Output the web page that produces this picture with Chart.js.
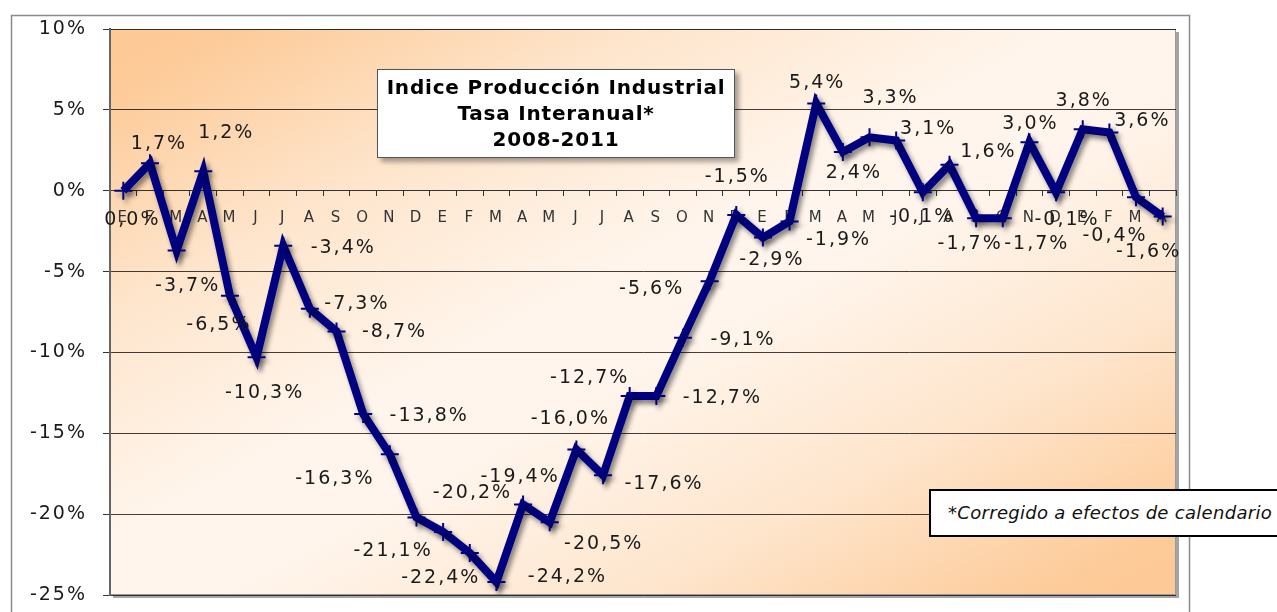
<!DOCTYPE html>
<html>
<head>
<meta charset="utf-8">
<title>Indice Producción Industrial</title>
<script src="https://cdn.jsdelivr.net/npm/chart.js@4.4.0/dist/chart.umd.min.js"></script>
<style>
    body { margin: 0; background: #fff; }
    #wrap { position: relative; width: 1277px; height: 612px; overflow: hidden; }
    #ipiChart { position: absolute; left: 0; top: 0; }
    .titleBox {
        position: absolute; left: 377px; top: 69px; width: 356px; height: 83px;
        background: #fff; border: 1.5px solid #555;
        box-shadow: 4px 4px 5px rgba(0, 0, 0, 0.35);
        font: bold 20px "DejaVu Sans", Verdana, sans-serif; letter-spacing: 0.8px;
        line-height: 26px; text-align: center; color: #000; padding-top: 4px; box-sizing: content-box;
    }
    .noteBox {
        position: absolute; left: 929px; top: 489px; width: 360px; height: 44px;
        background: #fff; border: 2px solid #000;
        font: italic 18px "DejaVu Sans", Verdana, sans-serif; letter-spacing: 0.3px;
        line-height: 44px; color: #111; padding-left: 17px;
    }
</style>
</head>
<body>
<div id="wrap">
    <canvas id="ipiChart" width="1277" height="612"></canvas>
    <div class="titleBox">Indice Producción Industrial<br>Tasa Interanual*<br>2008-2011</div>
    <div class="noteBox">*Corregido a efectos de calendario</div>
</div>
<script>
// months Jan 2008 - Apr 2011
const monthLabels = [
    'E', 'F', 'M', 'A', 'M', 'J', 'J', 'A', 'S', 'O', 'N', 'D',
    'E', 'F', 'M', 'A', 'M', 'J', 'J', 'A', 'S', 'O', 'N', 'D',
    'E', 'F', 'M', 'A', 'M', 'J', 'J', 'A', 'S', 'O', 'N', 'D',
    'E', 'F', 'M', 'A'
];

// tasa interanual (%)
const ipiRates = [
    0.0, 1.7, -3.7, 1.2, -6.5, -10.3, -3.4, -7.3, -8.7, -13.8, -16.3, -20.2,
    -21.1, -22.4, -24.2, -19.4, -20.5, -16.0, -17.6, -12.7, -12.7, -9.1, -5.6, -1.5,
    -2.9, -1.9, 5.4, 2.4, 3.3, 3.1, -0.1, 1.6, -1.7, -1.7, 3.0, -0.1,
    3.8, 3.6, -0.4, -1.6
];

const yMin = -25;
const yMax = 10;
const yStep = 5;

// where each data label sits relative to its point (px)
const labelOffsets = [
    [8, 29], [8, -19], [10, 36], [22, -38], [-12, 29], [7, 36], [59, 2], [46, -5], [57, 1], [65, 2], [-56, 25], [55, -24],
    [-51, 19], [-30, 25], [70, -5], [-4, -27], [53, 22], [-7, -30], [60, 9], [-41, -18], [65, 2], [59, 2], [-59, 8], [0, -38],
    [8, 22], [48, 19], [0, -20], [10, 21], [20, -39], [31, -12], [-2, 25], [38, -13], [-7, 26], [33, 26], [0, -18], [10, 28],
    [0, -28], [32, -11], [-22, 39], [-15, 35]
];

function fmtPct(v) {
    return v.toFixed(1).replace('.', ',') + '%';
}

const plotBackground = {
    id: 'plotBackground',
    beforeDraw(chart) {
        const ctx = chart.ctx;
        const a = chart.chartArea;
        ctx.save();
        // outer frame
        ctx.strokeStyle = '#8a8a8a';
        ctx.lineWidth = 1.5;
        ctx.strokeRect(11.5, 15.5, 1178, 640);
        // plot shadow
        ctx.fillStyle = '#a5a5a5';
        ctx.fillRect(a.left + 3, a.top + 3, a.width, a.height);
        // diagonal gradient, bands parallel to the bottom-left/top-right diagonal
        ctx.save();
        ctx.translate(a.left, a.top);
        ctx.scale(a.width, a.height);
        const g = ctx.createLinearGradient(0, 0, 1, 1);
        g.addColorStop(0, '#fdc995');
        g.addColorStop(0.06, '#fdcb99');
        g.addColorStop(0.25, '#fee5cc');
        g.addColorStop(0.45, '#fff5ec');
        g.addColorStop(0.55, '#fff5ec');
        g.addColorStop(0.75, '#fee5cc');
        g.addColorStop(0.94, '#fdcb99');
        g.addColorStop(1, '#fdc995');
        ctx.fillStyle = g;
        ctx.fillRect(0, 0, 1, 1);
        ctx.restore();
        ctx.strokeStyle = '#9a9a9a';
        ctx.lineWidth = 1;
        ctx.strokeRect(a.left + 0.5, a.top + 0.5, a.width - 1, a.height - 1);
        ctx.restore();
        ctx.letterSpacing = '2px';
    },
    beforeDatasetDraw(chart) {
        const ctx = chart.ctx;
        ctx.save();
        ctx.shadowColor = 'rgba(0, 0, 0, 0.45)';
        ctx.shadowBlur = 5;
        ctx.shadowOffsetX = 3;
        ctx.shadowOffsetY = 4;
    },
    afterDatasetDraw(chart) {
        chart.ctx.restore();
    }
};

const dataLabels = {
    id: 'dataLabels',
    afterDatasetsDraw(chart) {
        const ctx = chart.ctx;
        const meta = chart.getDatasetMeta(0);
        ctx.save();
        ctx.font = '19px "DejaVu Sans", Verdana, sans-serif';
        ctx.letterSpacing = '2px';
        ctx.fillStyle = '#1a1a1a';
        ctx.textAlign = 'center';
        ctx.textBaseline = 'middle';
        meta.data.forEach((pt, i) => {
            const off = labelOffsets[i];
            ctx.fillText(fmtPct(ipiRates[i]), pt.x + off[0] + 1, pt.y + off[1]);
        });
        ctx.restore();
    }
};

const ipiChart = new Chart(document.getElementById('ipiChart'), {
    type: 'line',
    data: {
        labels: monthLabels,
        datasets: [{
            label: 'Tasa interanual',
            data: ipiRates,
            borderColor: '#000080',
            borderWidth: 8,
            borderJoinStyle: 'miter',
            tension: 0,
            pointStyle: 'cross',
            pointRadius: 9,
            pointBorderWidth: 2,
            pointBorderColor: '#000080',
            pointBackgroundColor: '#000080'
        }]
    },
    options: {
        responsive: false,
        animation: false,
        devicePixelRatio: 1,
        layout: { padding: { top: 29, right: 101, bottom: 17, left: 0 } },
        plugins: {
            legend: { display: false },
            tooltip: { enabled: false }
        },
        scales: {
            x: {
                position: { y: 0 },
                offset: true,
                afterFit: (scale) => { scale.height = 0; },
                grid: {
                    display: true,
                    drawOnChartArea: false,
                    drawTicks: true,
                    tickLength: 5,
                    offset: true,
                    tickColor: '#333'
                },
                border: { display: true, color: '#333', width: 1 },
                ticks: {
                    autoSkip: false,
                    maxRotation: 0,
                    padding: 13,
                    color: '#333',
                    font: { family: '"DejaVu Sans", Verdana, sans-serif', size: 15 }
                }
            },
            y: {
                min: yMin,
                max: yMax,
                afterFit: (scale) => {
                    scale.width = 110;
                    scale.paddingTop = 10;
                    scale.paddingBottom = 10;
                },
                grid: {
                    color: 'rgba(20, 15, 10, 0.8)',
                    lineWidth: 1,
                    tickLength: 7,
                    tickColor: '#333'
                },
                border: { display: true, color: '#666', width: 2 },
                ticks: {
                    stepSize: yStep,
                    padding: 16,
                    color: '#1a1a1a',
                    font: { family: '"DejaVu Sans", Verdana, sans-serif', size: 19 },
                    callback: (v) => v + '%'
                }
            }
        }
    },
    plugins: [plotBackground, dataLabels]
});
</script>
</body>
</html>
